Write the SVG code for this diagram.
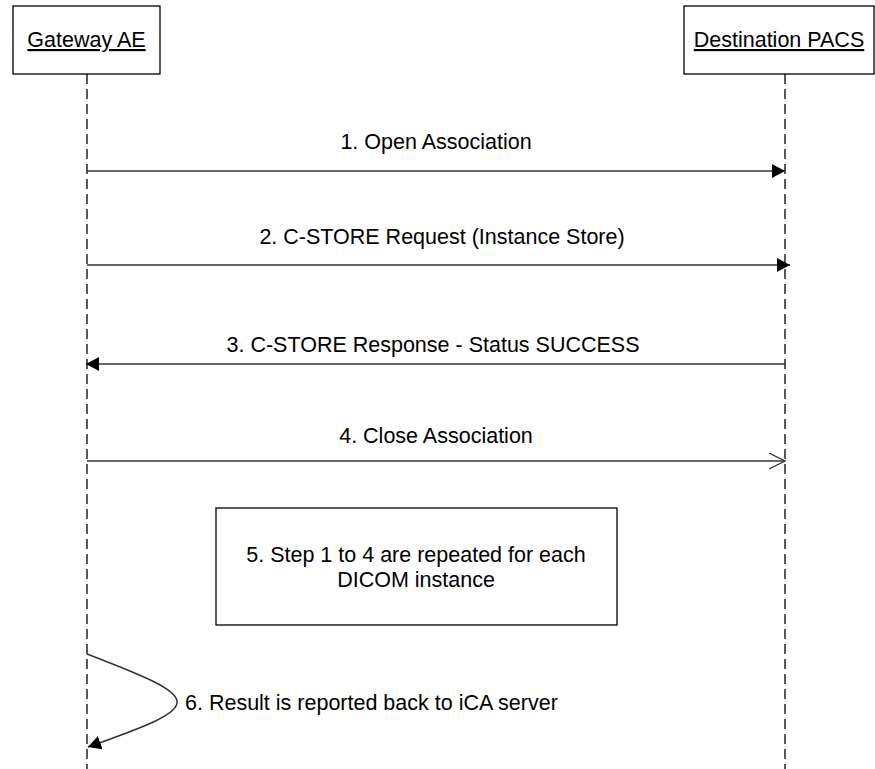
<svg xmlns="http://www.w3.org/2000/svg" width="875" height="769" viewBox="0 0 875 769">
<style>
text{font-family:"Liberation Sans",Arial,sans-serif;font-size:21.5px;fill:#000}
.actor{fill:#fff;stroke:#000;stroke-width:1.3}
.life{stroke:#000;stroke-width:1.3;stroke-dasharray:10,5;fill:none}
.msg{stroke:#333;stroke-width:1.5;fill:none}
.u{text-decoration:underline}
</style>
<defs>
<marker id="fill" markerUnits="userSpaceOnUse" markerWidth="16" markerHeight="16" refX="13" refY="7" orient="auto">
<path d="M0,0 L13,7 L0,14 z" fill="#000"/>
</marker>
<marker id="open" markerUnits="userSpaceOnUse" markerWidth="20" markerHeight="20" refX="16" refY="8" orient="auto">
<path d="M0,0 L16,8 L0,16" fill="none" stroke="#333" stroke-width="1.3"/>
</marker>
</defs>
<g id="gateway">
<rect class="actor" x="13" y="6" width="147" height="68"/>
<text class="u" x="86.5" y="47" text-anchor="middle">Gateway AE</text>
<line class="life" x1="87" y1="74" x2="87" y2="769"/>
</g>
<g id="pacs">
<rect class="actor" x="684" y="6" width="190" height="68"/>
<text class="u" x="779" y="47" text-anchor="middle">Destination PACS</text>
<line class="life" x1="785" y1="74" x2="785" y2="769"/>
</g>
<g id="note5">
<rect x="216" y="508" width="401" height="117" fill="#fff" stroke="#000" stroke-width="1.3"/>
<text x="416" y="562" text-anchor="middle">5. Step 1 to 4 are repeated for each</text>
<text x="416" y="587" text-anchor="middle">DICOM instance</text>
</g>
<g id="connectors">
<line class="msg" x1="87" y1="171" x2="785" y2="171" marker-end="url(#fill)"/>
<text x="436" y="149" text-anchor="middle">1. Open Association</text>
<line class="msg" x1="87" y1="265" x2="790" y2="265" marker-end="url(#fill)"/>
<text x="442" y="244" text-anchor="middle">2. C-STORE Request (Instance Store)</text>
<line class="msg" x1="785" y1="364" x2="86" y2="364" marker-end="url(#fill)"/>
<text x="433" y="352" text-anchor="middle">3. C-STORE Response - Status SUCCESS</text>
<line class="msg" x1="87" y1="461" x2="785" y2="461" marker-end="url(#open)"/>
<text x="436" y="443" text-anchor="middle">4. Close Association</text>
<path class="msg" d="M87,654 C207,700 207,705 88,747" marker-end="url(#fill)"/>
<text x="185" y="710">6. Result is reported back to iCA server</text>
</g>
</svg>
